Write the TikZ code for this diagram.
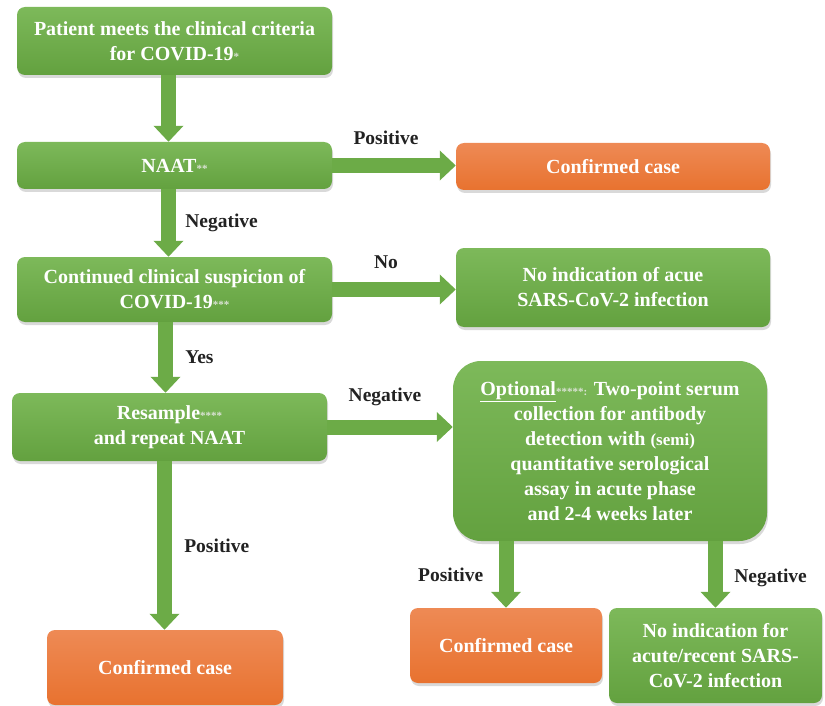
\documentclass[tikz,border=0pt]{standalone}
\usepackage{fontspec}
\setmainfont{Liberation Serif}
\usetikzlibrary {arrows.meta}
\usetikzlibrary {shadows}

\definecolor{greentop}{HTML}{7DB95A}
\definecolor{greenbot}{HTML}{63A13F}
\definecolor{orangetop}{HTML}{EE8A55}
\definecolor{orangebot}{HTML}{E8722F}
\definecolor{flowgreen}{HTML}{6CAB47}
\definecolor{labeltext}{HTML}{222222}
\definecolor{astgray}{HTML}{DCE3D6}
\newcommand{\astr}[1]{{\fontsize{11}{11}\selectfont\color{astgray}#1}}

\begin{document}
\begin{tikzpicture}[x=1pt, y=-1pt,
    box/.style={rounded corners=8pt, top color=greentop, bottom color=greenbot,
        text=white, align=center, inner sep=2pt,
        font=\fontsize{20}{25}\selectfont\bfseries,
        drop shadow={shadow xshift=1pt, shadow yshift=-3pt, opacity=0.3}},
    orangebox/.style={box, top color=orangetop, bottom color=orangebot},
    flow/.style={line width=15pt, draw=flowgreen,
        -{Triangle[width=29pt, length=16pt]}},
    lbl/.style={font=\fontsize{19.5}{22}\selectfont\bfseries, text=labeltext}]
    \useasboundingbox (0,0) rectangle (825,706);

    % left column
    \node[box, minimum width=315pt, minimum height=68pt] (start) at (174.5,41)
        {Patient meets the clinical criteria\\for COVID-19\astr{*}};
    \node[box, minimum width=315pt, minimum height=47pt] (naat) at (174.5,165.5)
        {NAAT\astr{**}};
    \node[box, minimum width=315pt, minimum height=65pt] (susp) at (174.5,289.5)
        {Continued clinical suspicion of\\COVID-19\astr{***}};
    \node[box, minimum width=315pt, minimum height=68pt] (resamp) at (169.5,427)
        {Resample\astr{****}\\and repeat NAAT};
    \node[orangebox, minimum width=236pt, minimum height=75pt] (confa) at (165,667.5)
        {Confirmed case};

    % right column
    \node[orangebox, minimum width=314pt, minimum height=47pt] (confb) at (613,166.5)
        {Confirmed case};
    \node[box, minimum width=314pt, minimum height=79pt] (noind) at (613,287.5)
        {No indication of acue\\SARS-CoV-2 infection};
    \node[box, rounded corners=28pt, minimum width=314pt, minimum height=180pt] (opt) at (610,451)
        {\underline{Optional}\astr{*****:} Two-point serum\\collection for antibody\\detection with {\fontsize{17}{17}\selectfont(semi)}\\quantitative serological\\assay in acute phase\\and 2-4 weeks later};
    \node[orangebox, minimum width=192pt, minimum height=75pt] (confc) at (506,645.5)
        {Confirmed case};
    \node[box, minimum width=213pt, minimum height=95pt] (noindb) at (715.5,655.5)
        {No indication for\\acute/recent SARS-\\CoV-2 infection};

    \draw[flow] ([xshift=-6pt]start.south) -- ([xshift=-6pt]naat.north);
    \draw[flow] ([xshift=-6pt]naat.south) -- ([xshift=-6pt]susp.north)
        node[lbl, midway, right=6pt] (lneg) {Negative};
    \draw[flow] ([xshift=-9pt]susp.south) -- ([xshift=-4pt]resamp.north)
        node[lbl, midway, right=9pt] (lyes) {Yes};
    \draw[flow] ([xshift=-5pt]resamp.south) -- ([xshift=-0.5pt]confa.north)
        node[lbl, midway, right=9pt] (lposa) {Positive};

    \draw[flow] (naat.east) -- (naat.east -| confb.west)
        node[lbl, midway, above=10pt, xshift=-8pt] (lposb) {Positive};
    \draw[flow] (susp.east) -- (susp.east -| noind.west)
        node[lbl, midway, above=10pt, xshift=-8pt] (lno) {No};
    \draw[flow] (resamp.east) -- (resamp.east -| opt.west)
        node[lbl, midway, above=10pt, xshift=-5pt] (lnegb) {Negative};

    \draw[flow] (opt.south -| confc.north) -- (confc.north)
        node[lbl, midway, left=12pt] (lposc) {Positive};
    \draw[flow] (opt.south -| noindb.north) -- (noindb.north)
        node[lbl, midway, right=8pt, yshift=-3pt] (lnegc) {Negative};
\end{tikzpicture}
\end{document}
